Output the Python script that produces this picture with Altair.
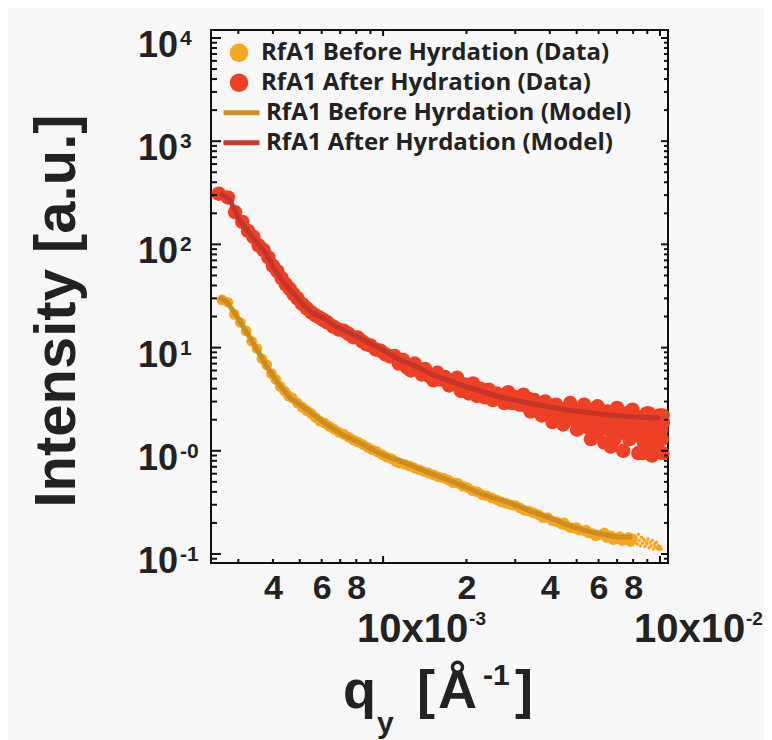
import altair as alt
import pandas as pd

# ---------------- data ----------------
S_BD = "RfA1 Before Hyrdation (Data)"
S_AD = "RfA1 After Hydration (Data)"
S_BM = "RfA1 Before Hyrdation (Model)"
S_AM = "RfA1 After Hyrdation (Model)"

before_q = [0.00262, 0.00275, 0.00290, 0.00305, 0.00320, 0.00335, 0.00350, 0.00365, 0.00380, 0.00395,
            0.00410, 0.00425, 0.00440, 0.00455, 0.00470, 0.00490, 0.00510, 0.00530, 0.00550, 0.00570,
            0.00590, 0.00615, 0.00640, 0.00665, 0.00690, 0.00720, 0.00750, 0.00780, 0.00810, 0.00845,
            0.00880, 0.00915, 0.00950, 0.00990, 0.01030, 0.01070, 0.01110, 0.01150, 0.01200, 0.01250,
            0.01300, 0.01350, 0.01400, 0.01460, 0.01520, 0.01580, 0.01650, 0.01720, 0.01790, 0.01860,
            0.01940, 0.02020, 0.02100, 0.02190, 0.02280, 0.02370, 0.02470, 0.02570, 0.02670, 0.02780,
            0.02890, 0.03000, 0.03120, 0.03240, 0.03370, 0.03500, 0.03640, 0.03780, 0.03930, 0.04080,
            0.04240, 0.04400, 0.04570, 0.04750, 0.04930, 0.05120, 0.05320, 0.05520, 0.05730, 0.05950,
            0.06180, 0.06410, 0.06650, 0.06900, 0.07150, 0.07420, 0.07700, 0.07950,
            0.04500, 0.05000, 0.05420, 0.05850, 0.06300, 0.06770, 0.07280, 0.07820]
before_I = [29.0, 27.5, 21.0, 17.5, 14.5, 11.5, 9.8, 7.8, 6.8, 5.6,
            4.9, 4.2, 3.8, 3.4, 3.25, 2.9, 2.65, 2.45, 2.3, 2.1,
            1.95, 1.85, 1.72, 1.62, 1.52, 1.45, 1.36, 1.27, 1.22, 1.15,
            1.08, 1.02, 0.98, 0.92, 0.87, 0.84, 0.79, 0.76, 0.74, 0.71,
            0.68, 0.655, 0.63, 0.61, 0.585, 0.56, 0.545, 0.52, 0.49, 0.485,
            0.455, 0.44, 0.41, 0.40, 0.375, 0.365, 0.35, 0.335, 0.32, 0.31,
            0.30, 0.295, 0.28, 0.265, 0.26, 0.25, 0.24, 0.225, 0.225, 0.21,
            0.205, 0.195, 0.19, 0.18, 0.178, 0.17, 0.168, 0.16, 0.158, 0.152,
            0.155, 0.145, 0.15, 0.14, 0.147, 0.138, 0.145, 0.14,
            0.200, 0.180, 0.170, 0.150, 0.160, 0.138, 0.135, 0.132]

tail_q = [0.0805, 0.0812, 0.0820, 0.0828, 0.0835, 0.0843, 0.0850, 0.0858, 0.0866, 0.0874,
          0.0882, 0.0890, 0.0898, 0.0906, 0.0914, 0.0922, 0.0930, 0.0938, 0.0946, 0.0954,
          0.0962, 0.0970, 0.0978, 0.0986, 0.0994, 0.1002, 0.1010]
tail_I = [0.150, 0.130, 0.142, 0.125, 0.155, 0.135, 0.120, 0.145, 0.128, 0.138,
          0.118, 0.132, 0.125, 0.140, 0.115, 0.130, 0.120, 0.135, 0.112, 0.125,
          0.118, 0.130, 0.113, 0.120, 0.110, 0.118, 0.112]

after_q = [0.00255, 0.00275, 0.00292, 0.00310, 0.00325, 0.00340, 0.00355, 0.00370, 0.00385, 0.00400,
           0.00415, 0.00430, 0.00445, 0.00460, 0.00475, 0.00490, 0.00510, 0.00530, 0.00550, 0.00570,
           0.00590, 0.00610, 0.00630, 0.00660, 0.00690, 0.00720, 0.00750, 0.00780, 0.00810, 0.00840,
           0.00870, 0.00900, 0.00940, 0.00980, 0.01020, 0.01060, 0.01100, 0.01140, 0.01180, 0.01220,
           0.01260, 0.01300, 0.01340, 0.01380, 0.01420, 0.01470, 0.01520, 0.01570, 0.01620, 0.01670,
           0.01730, 0.01790, 0.01850, 0.01910, 0.01970, 0.02040, 0.02110, 0.02180, 0.02250, 0.02330,
           0.02410, 0.02490, 0.02570, 0.02650, 0.02740, 0.02830, 0.02920, 0.03010, 0.03110, 0.03210,
           0.03310, 0.03410, 0.03520, 0.03630, 0.03740, 0.03850, 0.03970, 0.04090, 0.04210, 0.04340,
           0.04470, 0.04600, 0.04740, 0.04880, 0.05020, 0.05170, 0.05320, 0.05470, 0.05630, 0.05790,
           0.05950, 0.06120, 0.06290, 0.06460, 0.06640, 0.06820, 0.07000, 0.07180, 0.07370, 0.07560,
           0.07750, 0.07950, 0.08150, 0.08350, 0.08550, 0.08750, 0.08950, 0.09150, 0.09350, 0.09550,
           0.09750, 0.09950, 0.10100, 0.10200, 0.10250,
           0.02220, 0.02450, 0.02750, 0.03050, 0.03350, 0.03650, 0.03950, 0.04250, 0.04550, 0.04850,
           0.05050, 0.05350, 0.05650, 0.05950, 0.06250, 0.06550, 0.06850, 0.07150, 0.07450, 0.07750,
           0.08050, 0.08350, 0.08620, 0.08650, 0.08950, 0.09120, 0.09250, 0.09550, 0.09720, 0.09850,
           0.10150, 0.10220]
after_I = [310, 285, 205, 165, 135, 118, 98, 88, 75, 62,
           55, 47, 41, 37, 33, 30, 26.5, 24, 22, 20.5,
           19.5, 18.5, 17.5, 16, 15, 14.6, 13.6, 12.6, 12.5, 11.5,
           10.8, 10.5, 9.6, 9.3, 8.6, 8.2, 8.3, 7.0, 7.6, 6.4,
           6.0, 7.0, 6.1, 5.5, 6.2, 5.3, 4.8, 5.7, 4.9, 5.2,
           4.3, 4.8, 5.1, 3.8, 4.4, 3.6, 4.5, 3.4, 4.0, 3.3,
           3.9, 3.1, 3.6, 3.4, 2.9, 3.7, 2.9, 3.3, 2.8, 3.5,
           2.7, 2.4, 3.1, 2.6, 2.2, 3.0, 2.4, 1.9, 2.8, 2.2,
           1.8, 2.5, 2.9, 2.0, 1.6, 2.3, 2.8, 1.7, 1.3, 2.3,
           2.7, 1.8, 1.2, 2.4, 1.1, 2.0, 2.6, 1.5, 1.0, 2.3,
           1.3, 2.5, 1.7, 0.95, 2.1, 1.2, 2.3, 1.5, 0.9, 2.1,
           1.25, 2.2, 1.6, 0.95, 1.9,
           3.7, 3.4, 3.3, 3.0, 3.2, 2.8, 2.6, 2.4, 2.1, 2.5,
           1.9, 2.1, 1.9, 1.5, 2.2, 1.6, 1.3, 1.9, 1.7, 2.0,
           1.4, 1.8, 1.6, 0.95, 1.1, 2.3, 1.9, 1.4, 1.7, 1.0,
           1.3, 2.2]

bmodel_q = [0.00256, 0.00273, 0.00297, 0.00323, 0.00351, 0.00381, 0.00414, 0.00462, 0.00545, 0.00628,
            0.00718, 0.00826, 0.00951, 0.0109, 0.0125, 0.0144, 0.0165, 0.0190, 0.0218, 0.0250,
            0.0287, 0.0348, 0.0401, 0.0462, 0.0527, 0.0607, 0.0700, 0.0793]
bmodel_I = [30.9, 27.7, 19.8, 13.8, 9.48, 6.49, 4.64, 3.25, 2.38, 1.78,
            1.42, 1.19, 0.973, 0.834, 0.728, 0.623, 0.545, 0.467, 0.399, 0.349,
            0.312, 0.255, 0.223, 0.191, 0.171, 0.156, 0.146, 0.146]

amodel_q = [0.00258, 0.00280, 0.00300, 0.00326, 0.00351, 0.00381, 0.00407, 0.00436, 0.00473, 0.00514,
            0.00558, 0.00607, 0.00660, 0.00741, 0.00826, 0.00920, 0.0103, 0.0115, 0.0128, 0.0144,
            0.0152, 0.0201, 0.0264, 0.0348, 0.0462, 0.0607, 0.0800, 0.1000]
amodel_I = [315, 269, 180, 132, 103, 78.9, 56.5, 43.2, 33.8, 25.9,
            21.6, 19.4, 16.6, 14.2, 12.4, 10.6, 9.06, 7.59, 6.78, 5.80,
            5.42, 4.15, 3.32, 2.84, 2.48, 2.27, 2.13, 2.08]

x_label_vals = [0.004, 0.006, 0.008, 0.02, 0.04, 0.06, 0.08]
x_major = [0.01, 0.1]
x_minor = [0.003, 0.004, 0.005, 0.006, 0.007, 0.008, 0.009,
           0.02, 0.03, 0.04, 0.05, 0.06, 0.07, 0.08, 0.09]
x_decade_vals = [0.01, 0.1]
x_decade_exp = ["-3", "-2"]

y_major = [0.1, 1, 10, 100, 1000, 10000]
y_major_exp = ["-1", "-0", "1", "2", "3", "4"]
y_minor = [0.09, 0.2, 0.3, 0.4, 0.5, 0.6, 0.7, 0.8, 0.9,
           2, 3, 4, 5, 6, 7, 8, 9, 20, 30, 40, 50, 60, 70, 80, 90,
           200, 300, 400, 500, 600, 700, 800, 900,
           2000, 3000, 4000, 5000, 6000, 7000, 8000, 9000]

# ---------------- tables ----------------
pts = pd.concat([
    pd.DataFrame({"q": before_q, "I": before_I, "series": S_BD}),
    pd.DataFrame({"q": after_q, "I": after_I, "series": S_AD}),
], ignore_index=True)
tail = pd.DataFrame({"q": tail_q, "I": tail_I})
models = pd.concat([
    pd.DataFrame({"q": bmodel_q, "I": bmodel_I, "series": S_BM}),
    pd.DataFrame({"q": amodel_q, "I": amodel_I, "series": S_AM}),
], ignore_index=True)
xmaj = pd.DataFrame({"q": x_major})
xmin = pd.DataFrame({"q": x_minor})
xdec = pd.DataFrame({"q": x_decade_vals, "e": x_decade_exp})
ymaj = pd.DataFrame({"v": y_major, "e": y_major_exp})
ymin = pd.DataFrame({"v": y_minor})
one = pd.DataFrame({"a": [1]})

# ---------------- styling ----------------
W, H = 457, 533
FONT = "Liberation Sans"
LFONT = "Open Sans"
INK = "#222222"
C_BD, C_AD = "#F5A623", "#EE4027"
C_BM, C_AM = "#C98A1F", "#BF3528"

xscale = alt.Scale(type="log", domain=[0.00239, 0.1069], nice=False)
yscale = alt.Scale(type="log", domain=[0.0818, 11950], nice=False)
xaxis = alt.Axis(values=x_label_vals, grid=False, domain=False, ticks=False, tickSize=0,
                 labelExpr="datum.value < 0.01 ? format(datum.value*1000, 'd') : format(datum.value*100, 'd')",
                 labelFont=FONT, labelFontWeight="bold", labelFontSize=34, labelColor=INK,
                 labelPadding=8, title=None)


def X(f):
    return alt.X(f"{f}:Q", scale=xscale, axis=xaxis)


def Y(f):
    return alt.Y(f"{f}:Q", scale=yscale, axis=None)


legend_common = dict(orient="none", labelFont=LFONT, labelFontWeight="bold", labelFontSize=24,
                     labelColor=INK, labelLimit=600, rowPadding=0, padding=0, clipHeight=29.5)

points = alt.Chart(pts).mark_circle(opacity=1).encode(
    x=X("q"), y=Y("I"),
    color=alt.Color("series:N", title=None,
                    scale=alt.Scale(domain=[S_BD, S_AD], range=[C_BD, C_AD]),
                    legend=alt.Legend(legendX=16, legendY=8, symbolType="circle",
                                      symbolSize=346, symbolStrokeWidth=0, labelOffset=10,
                                      **legend_common)),
    size=alt.Size("series:N", scale=alt.Scale(domain=[S_BD, S_AD], range=[115, 210]), legend=None),
)

tail_pts = alt.Chart(tail).mark_circle(opacity=1, color=C_BD, size=12).encode(x=X("q"), y=Y("I"))

lines = alt.Chart(models).mark_line(strokeWidth=5, opacity=0.95).encode(
    x=X("q"), y=Y("I"),
    color=alt.Color("series:N", title=None,
                    scale=alt.Scale(domain=[S_BM, S_AM], range=[C_BM, C_AM]),
                    legend=alt.Legend(legendX=10, legendY=68, symbolType="stroke",
                                      symbolSize=1296, symbolStrokeWidth=5, labelOffset=4,
                                      **legend_common)),
)

rule_style = dict(color="#111111", strokeWidth=2)
tick_layers = [
    alt.Chart(ymaj).mark_rule(**rule_style).encode(y=Y("v"), x=alt.value(0), x2=alt.value(10)),
    alt.Chart(ymin).mark_rule(**rule_style).encode(y=Y("v"), x=alt.value(0), x2=alt.value(6)),
    alt.Chart(ymaj).mark_rule(**rule_style).encode(y=Y("v"), x=alt.value(W), x2=alt.value(W - 7)),
    alt.Chart(ymin).mark_rule(**rule_style).encode(y=Y("v"), x=alt.value(W), x2=alt.value(W - 4)),
    alt.Chart(xmaj).mark_rule(**rule_style).encode(x=X("q"), y=alt.value(H), y2=alt.value(H - 7)),
    alt.Chart(xmin).mark_rule(**rule_style).encode(x=X("q"), y=alt.value(H), y2=alt.value(H - 4)),
    alt.Chart(xmaj).mark_rule(**rule_style).encode(x=X("q"), y=alt.value(0), y2=alt.value(6)),
    alt.Chart(xmin).mark_rule(**rule_style).encode(x=X("q"), y=alt.value(0), y2=alt.value(4)),
]

txt = dict(font=FONT, fontWeight="bold", color=INK)
ylab_base = alt.Chart(ymaj).mark_text(align="right", baseline="alphabetic", fontSize=36, dy=19, **txt).encode(
    y=Y("v"), x=alt.value(-33), text=alt.value("10"))
ylab_exp = alt.Chart(ymaj).mark_text(align="left", baseline="alphabetic", fontSize=21, dy=7, **txt).encode(
    y=Y("v"), x=alt.value(-31), text="e:N")
xdec_base = alt.Chart(xdec).mark_text(align="left", baseline="alphabetic", fontSize=40, dx=-26, **txt).encode(
    x=X("q"), y=alt.value(H + 79), text=alt.value("10x10"))
xdec_exp = alt.Chart(xdec).mark_text(align="left", baseline="alphabetic", fontSize=19, dx=86, **txt).encode(
    x=X("q"), y=alt.value(H + 62), text="e:N")


def label(t, x, y, size, **kw):
    return alt.Chart(one).mark_text(align="left", baseline="alphabetic", fontSize=size, **txt, **kw).encode(
        x=alt.value(x), y=alt.value(y), text=alt.value(t))


ytitle = alt.Chart(one).mark_text(angle=270, align="center", baseline="middle", fontSize=58, **txt).encode(
    x=alt.value(-153), y=alt.value(281), text=alt.value("Intensity [a.u.]"))
xtitle = [
    label("q", 132, 678, 54),
    label("y", 166, 703, 30),
    label("[", 206, 678, 54),
    label("Å", 227, 678, 54),
    label("-1", 272, 655, 30),
    label("]", 304, 678, 54),
]

chart = alt.layer(
    points, tail_pts, lines, *tick_layers, ylab_base, ylab_exp, xdec_base, xdec_exp, ytitle, *xtitle
).resolve_scale(color="independent").properties(
    width=W, height=H, autosize="none",
    padding={"left": 203, "top": 22, "right": 96, "bottom": 177},
    background="#F8F8F8",
).configure_view(stroke="#111111", strokeWidth=2)

chart.save("out.html", embed_options={"renderer": "svg", "actions": False})
